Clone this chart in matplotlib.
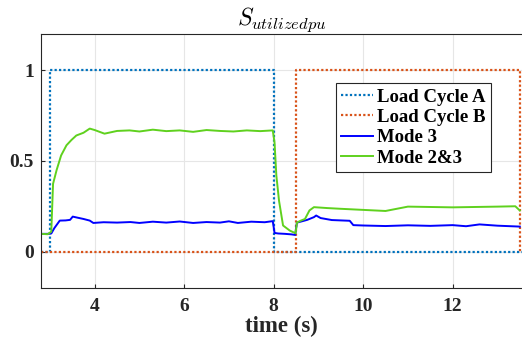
import matplotlib
matplotlib.use("Agg")
import matplotlib.pyplot as plt

plt.rcParams['font.family'] = ['Liberation Serif', 'DejaVu Serif']
plt.rcParams['mathtext.fontset'] = 'cm'

# load cycles (step profiles)
t_load_a = [2.8, 3.0, 3.0, 8.0, 8.0, 13.5, 13.55]
load_a = [0, 0, 1, 1, 0, 0, 0]
t_load_b = [2.8, 8.5, 8.5, 13.5, 13.5]
load_b = [0, 0, 1, 1, 0]

# Mode 3
t_mode3 = [2.8, 2.95, 3.03, 3.1, 3.22, 3.35, 3.45, 3.51, 3.6, 3.75, 3.89, 3.97, 4.2,
           4.5, 4.8, 5.0, 5.3, 5.6, 5.9, 6.2, 6.5, 6.8, 7.0, 7.2, 7.5, 7.8, 7.98,
           8.02, 8.1, 8.25, 8.4, 8.48, 8.52, 8.6, 8.75, 8.9, 8.95, 9.05, 9.3, 9.5,
           9.7, 9.78, 10.0, 10.5, 11.0, 11.5, 12.0, 12.3, 12.6, 13.0, 13.3, 13.5]
mode3 = [0.098, 0.098, 0.100, 0.130, 0.171, 0.172, 0.175, 0.193, 0.188, 0.180, 0.171, 0.158, 0.162,
         0.160, 0.163, 0.158, 0.165, 0.160, 0.166, 0.158, 0.163, 0.160, 0.167, 0.158, 0.165, 0.162, 0.168,
         0.103, 0.100, 0.098, 0.095, 0.092, 0.160, 0.165, 0.175, 0.190, 0.199, 0.185, 0.174, 0.172,
         0.170, 0.146, 0.144, 0.141, 0.145, 0.142, 0.146, 0.140, 0.150, 0.143, 0.140, 0.138]

# Mode 2&3
t_mode23 = [2.8, 2.95, 3.03, 3.07, 3.15, 3.25, 3.37, 3.48, 3.59, 3.75, 3.89, 4.0, 4.22,
            4.5, 4.78, 5.0, 5.3, 5.6, 5.9, 6.2, 6.5, 6.8, 7.1, 7.4, 7.7, 7.98,
            8.02, 8.06, 8.12, 8.21, 8.36, 8.49, 8.52, 8.6, 8.7, 8.8, 8.9, 9.2, 9.5,
            10.0, 10.5, 11.0, 11.5, 12.0, 12.5, 13.0, 13.4, 13.5]
mode23 = [0.098, 0.096, 0.110, 0.374, 0.450, 0.530, 0.586, 0.615, 0.640, 0.655, 0.678, 0.670, 0.650,
          0.665, 0.668, 0.662, 0.672, 0.664, 0.668, 0.660, 0.670, 0.665, 0.662, 0.668, 0.664, 0.668,
          0.600, 0.420, 0.280, 0.144, 0.116, 0.101, 0.160, 0.170, 0.180, 0.227, 0.245, 0.240, 0.236,
          0.230, 0.224, 0.248, 0.246, 0.244, 0.246, 0.248, 0.250, 0.227]

fig = plt.figure(figsize=(5.22, 3.49), dpi=100)
ax = fig.add_axes([0.0785, 0.175, 0.9215, 0.728])

ax.plot(t_load_a, load_a, color='#0072BD', lw=1.6, ls=(0, (1, 1)), label='Load Cycle A')
ax.plot(t_load_b, load_b, color='#D95319', lw=1.6, ls=(0, (1, 1)), label='Load Cycle B')
ax.plot(t_mode3, mode3, '-', color='#0000FF', lw=1.4, label='Mode 3')
ax.plot(t_mode23, mode23, '-', color='#5FD11E', lw=1.4, label='Mode 2&3')

ax.set_xlim(2.8, 13.55)
ax.set_ylim(-0.2, 1.2)
ax.set_xticks([4, 6, 8, 10, 12])
ax.set_yticks([0, 0.5, 1])
ax.set_yticklabels(['0', '0.5', '1'])
ax.grid(True, color='#e6e6e6', lw=0.8)
ax.set_axisbelow(True)
ax.tick_params(direction='in', labelsize=14, colors='#262626', length=3)
ax.tick_params(axis='x', pad=7)
ax.tick_params(axis='y', pad=5)
for lbl in ax.get_xticklabels() + ax.get_yticklabels():
    lbl.set_fontweight('bold')
for s in ax.spines.values():
    s.set_color('#262626')
    s.set_linewidth(0.8)
ax.spines['right'].set_visible(False)

ax.set_xlabel('time (s)', fontsize=16.5, fontweight='bold', color='#262626', labelpad=1)
ax.set_title(r'$S_{utilizedpu}$', fontsize=17, pad=6)

leg = ax.legend(loc='upper left', bbox_to_anchor=(0.613, 0.807), fancybox=False,
                edgecolor='#262626', framealpha=1, handlelength=1.7, handletextpad=0.2,
                borderpad=0.3, labelspacing=0.17, borderaxespad=0,
                prop={'weight': 'bold', 'size': 13.5})
leg.get_frame().set_linewidth(0.8)

fig.savefig('out.png', dpi=100)
